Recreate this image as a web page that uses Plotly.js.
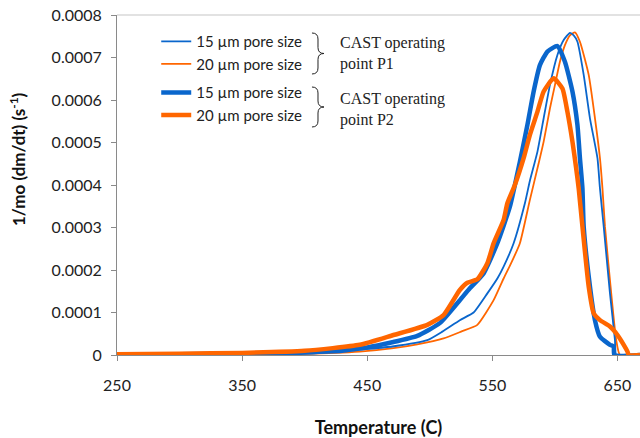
<!DOCTYPE html>
<html>
<head>
<meta charset="utf-8">
<script src="https://cdn.plot.ly/plotly-3.0.1.min.js"></script>
<style>html,body{margin:0;padding:0;background:#fff;}#chart{width:640px;height:438px;}</style>
</head>
<body>
<div id="chart"></div>
<script>
// P1, 15 µm (thin blue)
const p1_15_T = [250,300,350,400,430,444,470,498,510,524,535,546,554,559,567,576,580,586,591,596,602,607,612,615,618,623,628,634,636,639,644,648,649,668];
const p1_15_V = [0.000001,0.000001,0.000002,0.000004,0.000007,0.000012,0.00002,0.000035,0.000055,0.000082,0.0001,0.000145,0.00018,0.000208,0.000263,0.000357,0.00041,0.000478,0.000557,0.000635,0.000706,0.000741,0.000758,0.000752,0.000737,0.000659,0.000557,0.000463,0.000392,0.000302,0.000145,0.000035,0,0];
// P1, 20 µm (thin orange)
const p1_20_T = [250,300,350,400,444,471,490,511,525,538,551,559,565,572,580,587,591,596,600,604,608,612,616,620,627,632,636,638,640,645,649,652,668];
const p1_20_V = [0.000001,0.000001,0.000002,0.000003,0.000008,0.000016,0.000025,0.000039,0.000055,0.000071,0.000129,0.00018,0.000216,0.000263,0.000365,0.000451,0.000502,0.00058,0.000635,0.00069,0.000729,0.000752,0.000759,0.000737,0.000659,0.000557,0.000463,0.000392,0.000302,0.000145,0.000035,0,0];
// P2, 15 µm (thick blue)
const p2_15_T = [250,300,350,400,430,450,470,490,508,524,532,543,554,564,572,578,583,588,594,602,608,614,618,620,622,623,628,632,636,644,647,647.5,668];
const p2_15_V = [0.000001,0.000002,0.000003,0.000006,0.000012,0.000018,0.00003,0.000045,0.000075,0.000129,0.000157,0.000192,0.000263,0.000349,0.000455,0.000541,0.00062,0.000682,0.000714,0.000727,0.00069,0.00062,0.000541,0.000463,0.000392,0.000302,0.000161,0.000082,0.000043,0.000024,0.00002,0,0];
// P2, 20 µm (thick orange)
const p2_20_T = [250,300,350,400,444,471,498,511,524,530,538,546,551,559,562,568,575,580,586,591,599,606,610,614,617,619,622,627,631,636,644,650,655,658,659,668];
const p2_20_V = [0.000002,0.000003,0.000005,0.00001,0.000024,0.000047,0.000071,0.000094,0.000153,0.00017,0.000178,0.000216,0.000263,0.000318,0.000357,0.0004,0.000463,0.000518,0.000572,0.00062,0.000651,0.000627,0.000572,0.000502,0.000439,0.000392,0.000302,0.000161,0.000098,0.000082,0.000067,0.000047,0.000024,0.000008,0,0];

const seriesNames = ['15 µm pore size','20 µm pore size','15 µm pore size','20 µm pore size'];
const groupNotes = ['CAST operating<br>point P1','CAST operating<br>point P2'];
const xTicks = [250,350,450,550,650];
const yTicks = [0,0.0001,0.0002,0.0003,0.0004,0.0005,0.0006,0.0007,0.0008];
const xTitle = 'Temperature (C)';
const yTitle = '1/mo (dm/dt) (s<sup>-1</sup>)';

const BLUE = '#0A66CC', ORANGE = '#FF6600';
const SANS = 'Lato, "Open Sans", sans-serif';
const SERIF = '"Liberation Serif", "DejaVu Serif", serif';

const traces = [
  {x:p1_20_T, y:p1_20_V, name:seriesNames[1], line:{color:ORANGE,width:1.8,shape:'spline',smoothing:0.5}, legendrank:2, legendgroup:'P1'},
  {x:p1_15_T, y:p1_15_V, name:seriesNames[0], line:{color:BLUE,width:1.8,shape:'spline',smoothing:0.5}, legendrank:1, legendgroup:'P1'},
  {x:p2_15_T, y:p2_15_V, name:seriesNames[2], line:{color:BLUE,width:4.5,shape:'spline',smoothing:0.5}, legendrank:3, legendgroup:'P2'},
  {x:p2_20_T, y:p2_20_V, name:seriesNames[3], line:{color:ORANGE,width:4.5,shape:'spline',smoothing:0.5}, legendrank:4, legendgroup:'P2'}
].map(t => Object.assign({type:'scatter', mode:'lines', hoverinfo:'skip'}, t));

// pixel -> paper helpers for decorations
const L=117, R=640, T=15, B=355;
const px = v => ((v-L)/(R-L)).toFixed(4);
const py = v => ((B-v)/(B-T)).toFixed(4);
function brace(x0, yTop, yBot, xr, xTip){
  const ym = (yTop+yBot)/2, r = 6;
  return 'M'+px(x0)+','+py(yTop)+' Q'+px(xr)+','+py(yTop)+' '+px(xr)+','+py(yTop+r)+
    ' L'+px(xr)+','+py(ym-r)+' Q'+px(xr)+','+py(ym)+' '+px(xTip)+','+py(ym)+
    ' Q'+px(xr)+','+py(ym)+' '+px(xr)+','+py(ym+r)+
    ' L'+px(xr)+','+py(yBot-r)+' Q'+px(xr)+','+py(yBot)+' '+px(x0)+','+py(yBot);
}

const layout = {
  width:640, height:438,
  margin:{l:117, r:0, t:15, b:83},
  paper_bgcolor:'#fff', plot_bgcolor:'#fff',
  font:{family:SANS, color:'#222', size:16},
  showlegend:true,
  legend:{x:0.075, y:0.97, xanchor:'left', yanchor:'top', bgcolor:'rgba(0,0,0,0)',
          font:{family:SANS, size:15, color:'#222'}, tracegroupgap:6, itemwidth:30, traceorder:'grouped'},
  xaxis:{range:[250,668], tickvals:xTicks, ticktext:xTicks.map(String), showgrid:false, zeroline:false,
         showline:true, linecolor:'#8a8a8a', linewidth:1, ticks:'outside', ticklen:5, tickcolor:'#8a8a8a',
         tickfont:{family:SANS, size:16, color:'#222'}, ticklabelstandoff:11,
         title:{text:'<b>'+xTitle+'</b>', font:{family:SANS, size:18, color:'#111'}, standoff:29}},
  yaxis:{range:[0,0.0008], tickvals:yTicks, ticktext:yTicks.map(v=> v===0?'0':v.toFixed(4)), showgrid:false, zeroline:false,
         showline:true, linecolor:'#8a8a8a', linewidth:1, ticks:'outside', ticklen:5, tickcolor:'#8a8a8a',
         tickfont:{family:SANS, size:16, color:'#222'}, ticklabelstandoff:6},
  shapes:[
    {type:'line', xref:'paper', yref:'paper', x0:0, x1:1, y0:1, y1:1, line:{color:'#d9d9d9', width:1.5}},
    {type:'path', xref:'paper', yref:'paper', path:brace(312,33,74,318,324), line:{color:'#222', width:1}},
    {type:'path', xref:'paper', yref:'paper', path:brace(312,87,127,318,324), line:{color:'#222', width:1}}
  ],
  annotations:[
    {xref:'paper', yref:'paper', x:+px(18), y:+py(159), xanchor:'center', yanchor:'middle', textangle:-90, showarrow:false,
     text:'<b>'+yTitle+'</b>', font:{family:SANS, size:17, color:'#111'}},
    {xref:'paper', yref:'paper', x:+px(338), y:+py(53.5), xanchor:'left', yanchor:'middle', align:'left', showarrow:false,
     text:groupNotes[0], font:{family:SERIF, size:16, color:'#222'}},
    {xref:'paper', yref:'paper', x:+px(338), y:+py(109.5), xanchor:'left', yanchor:'middle', align:'left', showarrow:false,
     text:groupNotes[1], font:{family:SERIF, size:16, color:'#222'}}
  ]
};

Plotly.newPlot('chart', traces, layout, {displayModeBar:false, staticPlot:true});
</script>
</body>
</html>
